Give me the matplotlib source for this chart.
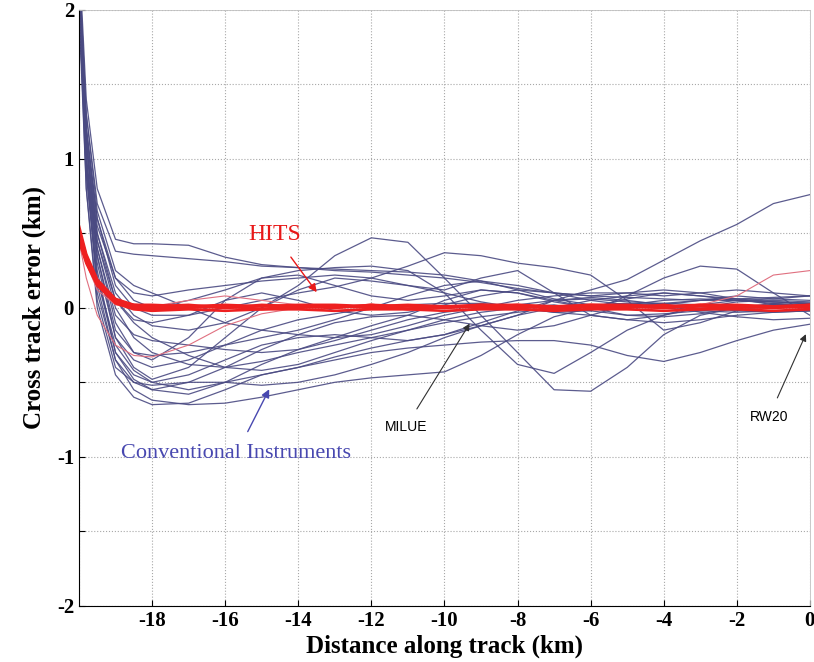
import numpy as np
import matplotlib
matplotlib.use("Agg")
from matplotlib import pyplot as plt

dist_km = [-20, -19.8, -19.5, -19, -18.5, -18, -17, -16, -15, -14, -13, -12,
           -11, -10, -9, -8, -7, -6, -5, -4, -3, -2, -1, 0]

# conventional instrument approaches, cross track error (km)
conv_01 = [2.4, 1.4, 0.8, 0.46, 0.43, 0.43, 0.42, 0.34, 0.29, 0.27, 0.25, 0.24, 0.22, 0.2, 0.17, 0.13, 0.1, 0.08, 0.07, 0.06, 0.05, 0.05, 0.04, 0.03]
conv_02 = [2.3, 1.3, 0.7, 0.38, 0.36, 0.35, 0.33, 0.31, 0.28, 0.27, 0.26, 0.25, 0.24, 0.22, 0.18, 0.12, 0.06, 0.02, 0.0, 0.02, 0.05, 0.08, 0.06, 0.05]
conv_03 = [2.2, 1.1, 0.5, 0.1, -0.05, -0.12, -0.15, -0.1, 0.0, 0.15, 0.35, 0.47, 0.44, 0.2, -0.05, -0.3, -0.55, -0.56, -0.4, -0.18, -0.05, 0.0, 0.02, 0.01]
conv_04 = [2.1, 0.9, 0.2, -0.25, -0.42, -0.5, -0.55, -0.5, -0.45, -0.4, -0.33, -0.27, -0.22, -0.18, -0.12, -0.05, 0.05, 0.12, 0.19, 0.32, 0.45, 0.56, 0.7, 0.76]
conv_05 = [2.2, 1.2, 0.6, 0.15, 0.0, -0.05, -0.05, 0.0, 0.05, 0.1, 0.14, 0.2, 0.28, 0.37, 0.35, 0.3, 0.27, 0.22, 0.05, -0.15, -0.1, -0.02, 0.02, 0.0]
conv_06 = [2.0, 1.0, 0.3, -0.2, -0.35, -0.4, -0.35, -0.25, -0.15, -0.08, -0.04, 0.0, 0.02, 0.03, 0.03, 0.0, -0.03, -0.02, 0.08, 0.2, 0.28, 0.26, 0.1, -0.05]
conv_07 = [2.1, 0.8, 0.0, -0.45, -0.6, -0.65, -0.64, -0.55, -0.45, -0.4, -0.35, -0.3, -0.27, -0.25, -0.23, -0.22, -0.22, -0.25, -0.32, -0.36, -0.3, -0.22, -0.15, -0.11]
conv_08 = [2.3, 1.0, 0.1, -0.35, -0.55, -0.62, -0.65, -0.64, -0.6, -0.55, -0.5, -0.47, -0.45, -0.43, -0.32, -0.18, -0.06, 0.0, 0.02, 0.03, 0.02, 0.0, 0.0, 0.01]
conv_09 = [2.2, 1.1, 0.35, -0.2, -0.4, -0.48, -0.4, -0.2, 0.0, 0.12, 0.2, 0.18, 0.15, 0.12, 0.2, 0.25, 0.1, -0.05, -0.08, -0.05, 0.0, 0.04, 0.05, 0.04]
conv_10 = [2.1, 1.0, 0.4, -0.1, -0.3, -0.35, -0.2, 0.05, 0.2, 0.22, 0.15, 0.08, 0.05, 0.08, 0.12, 0.1, 0.05, 0.0, -0.05, -0.06, -0.04, 0.0, 0.03, 0.02]
conv_11 = [2.0, 1.2, 0.55, 0.2, 0.1, 0.08, 0.12, 0.15, 0.18, 0.2, 0.22, 0.2, 0.15, 0.1, 0.04, 0.0, -0.03, -0.05, -0.08, -0.1, -0.08, -0.05, -0.03, -0.02]
conv_12 = [2.3, 1.1, 0.45, 0.0, -0.2, -0.3, -0.38, -0.4, -0.36, -0.3, -0.25, -0.2, -0.15, -0.1, -0.06, -0.03, 0.0, 0.05, 0.08, 0.1, 0.08, 0.05, 0.06, 0.08]
conv_13 = [2.2, 0.9, 0.15, -0.35, -0.5, -0.55, -0.5, -0.4, -0.28, -0.18, -0.1, -0.06, -0.05, -0.08, -0.12, -0.15, -0.12, -0.05, 0.02, 0.05, 0.06, 0.05, 0.03, 0.0]
conv_14 = [2.1, 1.0, 0.25, -0.3, -0.48, -0.55, -0.58, -0.5, -0.38, -0.28, -0.2, -0.12, -0.05, 0.05, 0.12, 0.1, 0.04, 0.0, 0.06, 0.1, 0.08, 0.06, 0.07, 0.08]
conv_15 = [2.2, 1.2, 0.6, 0.2, 0.05, 0.0, 0.05, 0.12, 0.2, 0.25, 0.27, 0.28, 0.25, 0.1, -0.15, -0.38, -0.44, -0.3, -0.15, -0.05, 0.02, 0.05, 0.04, 0.03]
conv_16 = [2.0, 0.8, 0.05, -0.4, -0.5, -0.52, -0.5, -0.5, -0.52, -0.5, -0.45, -0.38, -0.3, -0.2, -0.12, -0.05, 0.0, 0.02, 0.03, 0.02, 0.0, -0.02, -0.03, -0.02]
conv_17 = [2.3, 1.3, 0.65, 0.25, 0.15, 0.1, 0.0, -0.1, -0.15, -0.18, -0.2, -0.18, -0.12, -0.05, 0.0, 0.05, 0.08, 0.1, 0.1, 0.08, 0.1, 0.12, 0.1, 0.08]
conv_18 = [2.1, 1.0, 0.35, -0.15, -0.3, -0.32, -0.3, -0.25, -0.2, -0.15, -0.08, 0.0, 0.08, 0.15, 0.18, 0.15, 0.1, 0.08, 0.1, 0.12, 0.1, 0.06, 0.02, 0.0]
conv_19 = [2.2, 0.95, 0.2, -0.3, -0.45, -0.5, -0.45, -0.35, -0.25, -0.2, -0.18, -0.2, -0.22, -0.18, -0.1, -0.02, 0.05, 0.07, 0.05, 0.02, -0.03, -0.06, -0.08, -0.07]
conv_20 = [2.3, 1.2, 0.5, 0.05, -0.08, -0.1, -0.05, 0.05, 0.1, 0.05, -0.02, -0.05, -0.03, 0.02, 0.08, 0.12, 0.1, 0.05, 0.02, 0.0, -0.02, -0.03, -0.02, -0.02]
conv_21 = [2.1, 1.1, 0.4, -0.05, -0.18, -0.22, -0.25, -0.28, -0.3, -0.28, -0.22, -0.15, -0.08, -0.03, 0.0, 0.02, 0.05, 0.06, 0.04, 0.03, 0.05, 0.06, 0.04, 0.03]
conv_22 = [2.2, 1.15, 0.45, 0.05, -0.1, -0.2, -0.32, -0.4, -0.42, -0.38, -0.3, -0.22, -0.15, -0.08, -0.03, 0.0, 0.02, -0.02, -0.05, -0.04, -0.02, 0.0, 0.02, 0.03]

conventional = [conv_01, conv_02, conv_03, conv_04, conv_05, conv_06, conv_07, conv_08,
                conv_09, conv_10, conv_11, conv_12, conv_13, conv_14, conv_15, conv_16,
                conv_17, conv_18, conv_19, conv_20, conv_21, conv_22]

# HITS approaches (tight bundle round zero)
hits_1 = [0.50, 0.33, 0.17, 0.05, 0.01, 0.00, 0.01, 0.00, 0.01, 0.00, 0.01, 0.00, 0.01, 0.00, 0.01, 0.00, 0.01, 0.00, 0.01, 0.00, 0.01, 0.00, 0.01, 0.00]
hits_2 = [0.55, 0.36, 0.19, 0.06, 0.02, 0.02, 0.01, 0.02, 0.01, 0.02, 0.02, 0.01, 0.02, 0.01, 0.02, 0.02, 0.01, 0.02, 0.02, 0.01, 0.02, 0.02, 0.01, 0.02]
hits_3 = [0.45, 0.30, 0.15, 0.03, -0.01, -0.02, -0.01, -0.02, -0.01, -0.01, -0.02, -0.01, -0.01, -0.02, -0.01, -0.01, -0.02, -0.01, -0.01, -0.02, -0.01, -0.01, -0.02, -0.01]
hits_4 = [0.48, 0.31, 0.16, 0.04, 0.00, -0.01, 0.00, 0.01, -0.01, 0.01, 0.00, 0.02, -0.01, 0.01, 0.00, 0.02, -0.01, 0.01, 0.00, 0.02, -0.01, 0.01, 0.00, 0.01]
hits_5 = [0.52, 0.35, 0.18, 0.05, 0.02, 0.01, 0.02, 0.00, 0.02, 0.01, 0.00, 0.02, 0.01, 0.00, 0.02, 0.01, 0.00, 0.02, 0.01, 0.00, 0.02, 0.01, 0.00, 0.02]
hits_low = [0.45, 0.2, -0.05, -0.25, -0.32, -0.33, -0.25, -0.12, -0.04, 0.0, 0.02, 0.01, 0.0, 0.01, 0.0, 0.0, 0.01, 0.0, 0.0, 0.01, 0.0, 0.0, 0.0, 0.0]
hits_high = [0.5, 0.3, 0.12, 0.02, 0.0, 0.01, 0.05, 0.08, 0.05, 0.02, 0.0, 0.01, 0.0, 0.0, 0.01, 0.0, 0.0, 0.01, 0.0, 0.0, 0.02, 0.08, 0.22, 0.25]

hits = [hits_1, hits_2, hits_3, hits_4, hits_5]

x_ticks = [-18, -16, -14, -12, -10, -8, -6, -4, -2, 0]
y_ticks = [-2, -1.5, -1, -0.5, 0, 0.5, 1, 1.5, 2]
y_ticklabels = ['-2', '', '-1', '', '0', '', '1', '', '2']

plt.rcParams['font.family'] = ['Liberation Serif', 'DejaVu Serif']
plt.rcParams['axes.unicode_minus'] = False

fig = plt.figure(figsize=(8.14, 6.62), dpi=100)
ax = fig.add_axes([0.097, 0.085, 0.898, 0.9])

for c in conventional:
    ax.plot(dist_km, c, color='#4a4a82', lw=0.9, alpha=0.9)
ax.plot(dist_km, hits_low, color='#e07080', lw=0.8)
ax.plot(dist_km, hits_high, color='#e07080', lw=0.8)
for h in hits:
    ax.plot(dist_km, h, color='#ee2020', lw=1.9)

ax.set_xlim(-20, 0)
ax.set_ylim(-2, 2)
ax.set_xticks(x_ticks)
ax.set_yticks(y_ticks)
ax.set_yticklabels(y_ticklabels)
ax.tick_params(direction='in', length=4, labelsize=15)
for lbl in ax.get_xticklabels() + ax.get_yticklabels():
    lbl.set_fontweight('bold')
ax.grid(True, linestyle=':', color='#a8a8a8', lw=0.8)
ax.axvline(-20, color='#a8a8a8', ls=':', lw=0.8)
for s in ['top', 'right']:
    ax.spines[s].set_color('#c0c0c0')
    ax.spines[s].set_linewidth(0.6)

ax.set_xlabel('Distance along track (km)', fontsize=18, fontweight='bold', labelpad=3)
ax.set_ylabel('Cross track error (km)', fontsize=18, fontweight='bold', labelpad=8)

ax.annotate('HITS', xy=(-13.45, 0.09), xytext=(-14.65, 0.49), color='#e81818',
            fontsize=17, ha='center', va='center',
            arrowprops=dict(arrowstyle='-|>', color='#e81818', lw=1, mutation_scale=12,
                            shrinkA=8))
ax.annotate('Conventional Instruments', xy=(-14.76, -0.53), xytext=(-15.69, -0.98),
            color='#4848b0', fontsize=16, ha='center', va='center',
            arrowprops=dict(arrowstyle='-|>', color='#4848b0', lw=1, mutation_scale=12,
                            shrinkA=8))
ax.annotate('MILUE', xy=(-9.27, -0.09), xytext=(-11.06, -0.80), color='black',
            fontsize=10, family='Liberation Sans', ha='center', va='center',
            arrowprops=dict(arrowstyle='-|>', color='#303030', lw=0.8, mutation_scale=10,
                            shrinkA=7))
ax.annotate('RW20', xy=(-0.08, -0.16), xytext=(-1.12, -0.73), color='black',
            fontsize=10, family='Liberation Sans', ha='center', va='center',
            arrowprops=dict(arrowstyle='-|>', color='#303030', lw=0.8, mutation_scale=10,
                            shrinkA=7))

fig.savefig('out.png', dpi=100)
